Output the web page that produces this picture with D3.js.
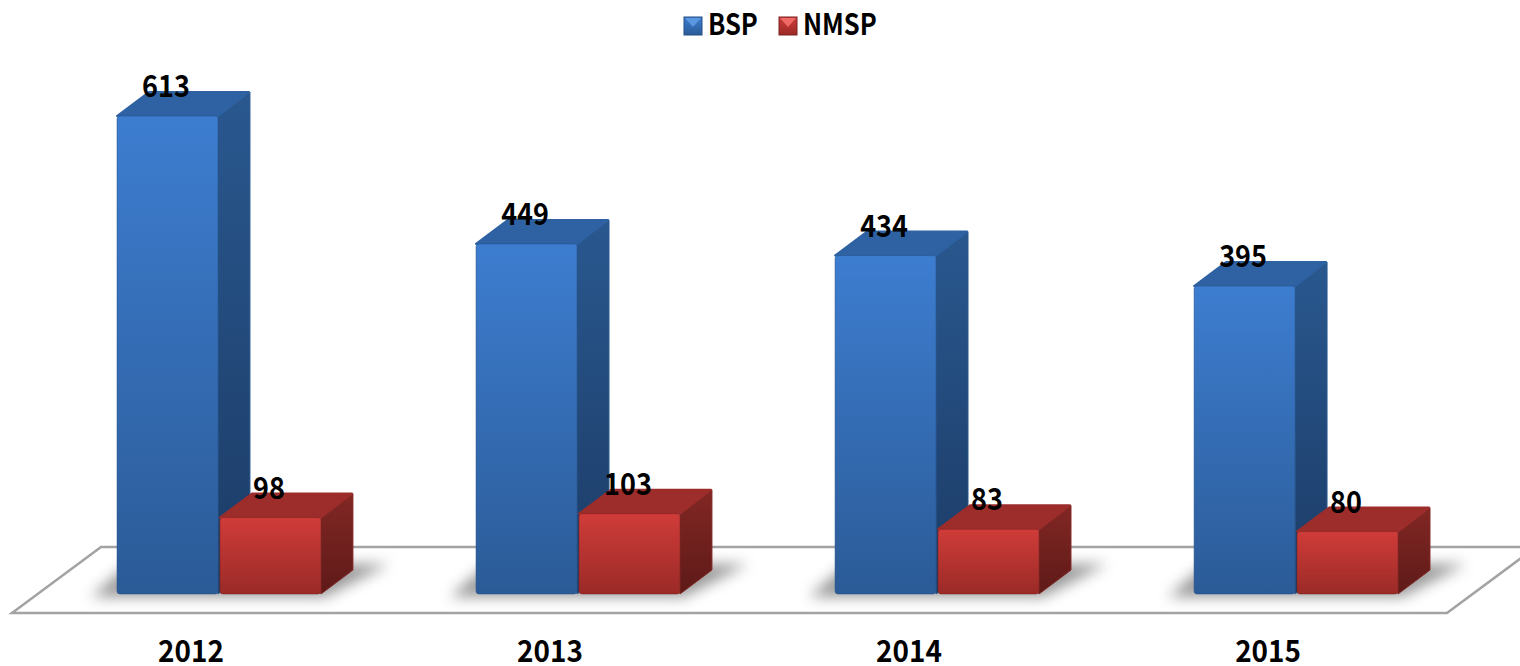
<!DOCTYPE html>
<html>
<head>
<meta charset="utf-8">
<script src="https://cdn.jsdelivr.net/npm/d3@7"></script>
<style>
html, body { margin: 0; padding: 0; background: #fff; overflow: hidden; }
text { font-family: "Noto Sans CJK SC", "Noto Sans", sans-serif; font-weight: 700; fill: #000; }
</style>
</head>
<body>
<div id="chart"></div>
<script>
// values
var years = ["2012", "2013", "2014", "2015"];
var seriesNames = ["BSP", "NMSP"];
var bsp = [613, 449, 434, 395];
var nmsp = [98, 103, 83, 80];

var width = 1520, height = 666;
var baseY = 594;
var depthX = 32, depthY = 24;

var svg = d3.select("#chart").append("svg")
    .attr("width", width)
    .attr("height", height)
    .style("display", "block");

var defs = svg.append("defs");

// colours per series
var colors = {
    BSP:  { front: ["#3d7dd0", "#2b5b97"], top: "#2e62a3", side: ["#29588f", "#1c3b66"], shine: "#5b97e0", dark: "#244f85" },
    NMSP: { front: ["#d03c39", "#9a2a27"], top: "#9c2d2b", side: ["#822724", "#5e1a18"], shine: "#ee6a66", dark: "#7a2321" }
};

function gradient(id, stops) {
    var g = defs.append("linearGradient").attr("id", id)
        .attr("x1", 0).attr("y1", 0).attr("x2", 0).attr("y2", 1);
    g.append("stop").attr("offset", "0%").attr("stop-color", stops[0]);
    g.append("stop").attr("offset", "100%").attr("stop-color", stops[1]);
}
seriesNames.forEach(function(s) {
    gradient("front" + s, colors[s].front);
    gradient("side" + s, colors[s].side);
});

defs.append("filter").attr("id", "blur")
    .attr("x", "-30%").attr("y", "-60%").attr("width", "160%").attr("height", "220%")
    .append("feGaussianBlur").attr("stdDeviation", 7);

//scales
var x = d3.scaleBand().domain(years).range([117, 1398]).paddingInner(0.432).paddingOuter(0);
var xInner = d3.scaleBand().domain(seriesNames).range([0, x.bandwidth() + 2]);
var y = d3.scaleLinear().domain([0, 613]).range([baseY, 116]);

// floor
var line = d3.line();
svg.append("path")
    .attr("d", line([[1520, 547], [101, 547], [12, 613], [1447, 613], [1536, 547]]))
    .attr("fill", "#fff")
    .attr("stroke", "#a3a3a3")
    .attr("stroke-width", 2.5);

// shadows under each pair of bars
svg.append("g").selectAll("path")
    .data(years)
    .enter()
    .append("path")
    .attr("d", function(d) {
        var l = x(d), r = x(d) + x.bandwidth();
        return line([[l - 26, baseY + 3], [r + 4, baseY + 3], [r + 68, 564], [l + 12, 564]]) + "Z";
    })
    .attr("fill", "#777")
    .attr("opacity", 0.75)
    .attr("filter", "url(#blur)");

// bars: side, top, front
var rows = [];
years.forEach(function(yr, i) {
    rows.push({ year: yr, series: "BSP", value: bsp[i] });
    rows.push({ year: yr, series: "NMSP", value: nmsp[i] });
});

var bars = svg.append("g").selectAll("g")
    .data(rows)
    .enter()
    .append("g")
    .attr("transform", function(d) { return "translate(" + (x(d.year) + xInner(d.series)) + ",0)"; });

var barW = xInner.bandwidth() - 2;

bars.append("path")
    .attr("d", function(d) {
        return line([[barW, y(d.value)], [barW + depthX, y(d.value) - depthY], [barW + depthX, baseY - depthY], [barW, baseY]]) + "Z";
    })
    .attr("fill", function(d) { return "url(#side" + d.series + ")"; })
    .attr("stroke", function(d) { return colors[d.series].side[0]; })
    .attr("stroke-width", 1)
    .attr("stroke-linejoin", "round");

bars.append("path")
    .attr("d", function(d) {
        return line([[0, y(d.value)], [depthX, y(d.value) - depthY], [barW + depthX - 1, y(d.value) - depthY], [barW, y(d.value)]]) + "Z";
    })
    .attr("fill", function(d) { return colors[d.series].top; })
    .attr("stroke", function(d) { return colors[d.series].top; })
    .attr("stroke-width", 2)
    .attr("stroke-linejoin", "round");

bars.append("rect")
    .attr("x", 0)
    .attr("y", function(d) { return y(d.value); })
    .attr("width", barW)
    .attr("height", function(d) { return baseY - y(d.value); })
    .attr("rx", 3)
    .attr("fill", function(d) { return "url(#front" + d.series + ")"; })
    .attr("stroke", function(d) { return colors[d.series].dark; })
    .attr("stroke-width", 0.5);

// value labels, squeezed a bit to get the narrow look of the original
var squeeze = 0.88;
svg.append("g").selectAll("text")
    .data(rows)
    .enter()
    .append("text")
    .attr("transform", function(d) {
        return "translate(" + (x(d.year) + xInner(d.series) + barW / 2 - 1.5) + "," + (y(d.value) - 19) + ") scale(0.9,1)";
    })
    .attr("text-anchor", "middle")
    .attr("font-size", 30)
    .text(function(d) { return d.value; });

// year axis
var axis = d3.axisBottom(x).tickSize(0).tickPadding(0);
var axisG = svg.append("g")
    .attr("transform", "translate(-28,642)")
    .call(axis);
axisG.select(".domain").remove();
axisG.selectAll("text")
    .attr("font-size", 30)
    .attr("font-family", null)
    .attr("dy", "0.75em")
    .attr("y", -3)
    .attr("transform", "scale(0.93,1)");
axisG.attr("font-family", null).attr("font-size", null);

// legend
var legendX = { BSP: 684, NMSP: 779 };
var swatch = 18, legendY = 17;
var legend = svg.append("g").selectAll("g")
    .data(seriesNames)
    .enter()
    .append("g")
    .attr("transform", function(d) { return "translate(" + legendX[d] + "," + legendY + ")"; });

legend.append("rect")
    .attr("width", swatch).attr("height", swatch)
    .attr("fill", function(d) { return "url(#front" + d + ")"; })
    .attr("stroke", function(d) { return colors[d].dark; })
    .attr("stroke-width", 1);
legend.append("path")
    .attr("d", line([[1, 1], [swatch - 1, 1], [swatch / 2, swatch / 2 + 1]]) + "Z")
    .attr("fill", function(d) { return colors[d].shine; });
legend.append("text")
    .attr("transform", "translate(" + (swatch + 6) + ",17.5) scale(" + squeeze + ",1)")
    .attr("font-size", 29)
    .text(function(d) { return d; });
</script>
</body>
</html>
